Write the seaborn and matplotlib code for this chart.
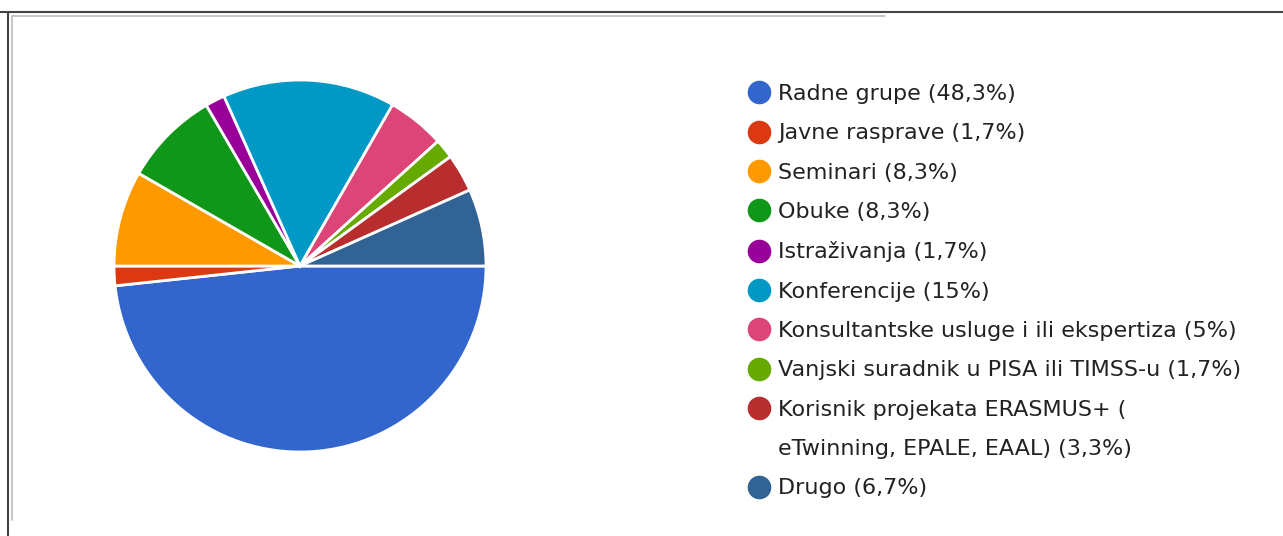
import matplotlib.pyplot as plt
import seaborn as sns
from matplotlib.lines import Line2D

categories = ['Radne grupe',
              'Javne rasprave',
              'Seminari',
              'Obuke',
              'Istraživanja',
              'Konferencije',
              'Konsultantske usluge i ili ekspertiza',
              'Vanjski suradnik u PISA ili TIMSS-u',
              'Korisnik projekata ERASMUS+ (\neTwinning, EPALE, EAAL)',
              'Drugo']
shares = [48.3, 1.7, 8.3, 8.3, 1.7, 15, 5, 1.7, 3.3, 6.7]
colors = ['#3366cc', '#dc3912', '#ff9900', '#109618', '#990099',
          '#0099c6', '#dd4477', '#66aa00', '#b82e2e', '#316395']

sns.set_theme(style='white')
plt.rcParams['font.family'] = ['DejaVu Sans']
palette = sns.color_palette(colors)

W, H = 1283, 536
fig = plt.figure(figsize=(W / 100, H / 100), dpi=100)
fig.patch.set_facecolor('white')

# pie: centre (300, 266), radius 186 px
cx, cy, r = 300, 266, 186
ax = fig.add_axes([(cx - r) / W, (H - cy - r) / H, 2 * r / W, 2 * r / H])
ax.pie(shares, colors=palette, startangle=0, counterclock=False,
       wedgeprops=dict(edgecolor='white', linewidth=2))
ax.set_xlim(-1, 1)
ax.set_ylim(-1, 1)
ax.set_aspect('equal')
ax.axis('off')

# legend; the long label wraps, its second line gets a blank handle like in the original
handles, labels = [], []
for c, v, col in zip(categories, shares, palette):
    lines = f"{c} ({format(v, 'g').replace('.', ',')}%)".split('\n')
    for k, line in enumerate(lines):
        handles.append(Line2D([], [], marker='o', linestyle='', markersize=16,
                              markerfacecolor=col, markeredgecolor=col,
                              alpha=1 if k == 0 else 0))
        labels.append(line)

fig.legend(handles, labels, loc='upper left',
           bbox_to_anchor=(736 / W, 1 - 73 / H),
           frameon=False, fontsize=16, labelspacing=0.87,
           handletextpad=0.3, handlelength=1.1, borderpad=0,
           labelcolor='#222222')

# screenshot frame
fig.add_artist(Line2D([0, 1], [1 - 12 / H, 1 - 12 / H], transform=fig.transFigure,
                      color='#444444', linewidth=1.5))
fig.add_artist(Line2D([8 / W, 8 / W], [0, 1 - 12 / H], transform=fig.transFigure,
                      color='#444444', linewidth=1.5))
fig.add_artist(Line2D([12 / W, 885 / W], [1 - 16 / H, 1 - 16 / H], transform=fig.transFigure,
                      color='#bbbbbb', linewidth=1.2))
fig.add_artist(Line2D([12 / W, 12 / W], [1 - 520 / H, 1 - 16 / H], transform=fig.transFigure,
                      color='#bbbbbb', linewidth=1.2))

plt.savefig('out.png', dpi=100)
